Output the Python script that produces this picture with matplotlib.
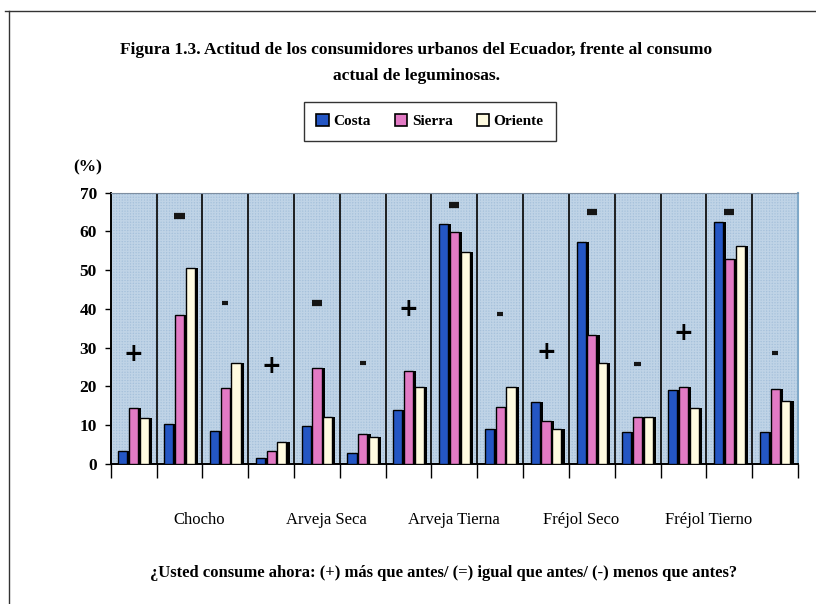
import numpy as np
import matplotlib
matplotlib.use("Agg")
import matplotlib.pyplot as plt
from matplotlib.patches import Patch, Rectangle
from matplotlib.lines import Line2D

# Survey results: share of respondents (%) per region, for each legume and answer
legumes = ["Chocho", "Arveja Seca", "Arveja Tierna", "Fréjol Seco", "Fréjol Tierno"]
answers = ["+", "=", "-"]
series = ["Costa", "Sierra", "Oriente"]

costa = [3.4, 10.3, 8.6, 1.6, 9.8, 2.8, 13.9, 61.8, 8.9, 16.1, 57.2, 8.2, 19.1, 62.5, 8.3]
sierra = [14.4, 38.4, 19.5, 3.4, 24.8, 7.7, 24.0, 59.8, 14.8, 11.1, 33.4, 12.0, 19.9, 53.0, 19.3]
oriente = [11.8, 50.5, 26.0, 5.6, 12.0, 7.0, 19.8, 54.6, 19.8, 8.9, 26.1, 12.0, 14.4, 56.3, 16.3]

# height at which the answer symbol is written in each group
symbol_y = [28.4, 64.0, 41.6, 25.4, 41.6, 26.0, 40.0, 66.8, 38.7, 29.0, 65.0, 25.7, 33.7, 65.0, 28.7]

colors = ["#2456c4", "#e27ac4", "#fffbe0"]
face_bg = "#a6c1db"
serif = ["Liberation Serif", "DejaVu Serif"]

fig = plt.figure(figsize=(8.16, 6.04), dpi=100)
fig.patch.set_facecolor("white")
ax = fig.add_axes([0.1357, 0.2318, 0.8423, 0.4492])
ax.set_facecolor(face_bg)

# fine screen texture of the plot area
ax.add_patch(Rectangle((0, 0), 1, 1, transform=ax.transAxes, facecolor="none",
                       edgecolor="#bfd3e6", hatch="++++++", linewidth=0, zorder=0.5))

n_groups = len(costa)
x = np.arange(n_groups)
bar_w = 0.2
shadow = 0.07
offsets = [-0.235, 0.0, 0.235]

for vals, off, col in zip([costa, sierra, oriente], offsets, colors):
    # dark side face giving the bars their raised look
    ax.bar(x + 0.5 + off + shadow, vals, width=bar_w, color="black", zorder=2)
    ax.bar(x + 0.5 + off, vals, width=bar_w, color=col, edgecolor="black",
           linewidth=1.0, zorder=3)

for i, (sym, yv) in enumerate(zip(answers * len(legumes), symbol_y)):
    if sym == "+":
        ax.text(i + 0.5, yv, "+", ha="center", va="center", fontsize=17,
                fontweight="bold", family=["DejaVu Sans"], zorder=4)
    elif sym == "=":
        ax.plot([i + 0.39, i + 0.61], [yv, yv], color="#151515", lw=4.5, zorder=4,
                solid_capstyle="butt")
    else:
        ax.plot([i + 0.43, i + 0.57], [yv, yv], color="#151515", lw=3.0, zorder=4,
                solid_capstyle="butt")

# separators between groups
for b in range(1, n_groups):
    ax.axvline(b, color="#111111", lw=1.3, zorder=1)

ax.set_xlim(0, n_groups)
ax.set_ylim(0, 70)
ax.set_xticks(np.arange(0, n_groups + 1))
ax.set_xticklabels([])
ax.tick_params(axis="x", length=10, width=1.0, direction="out", color="black")
ax.set_yticks(np.arange(0, 71, 10))
ax.set_yticklabels([str(v) for v in range(0, 71, 10)], fontsize=12.5,
                   fontweight="bold", family=serif)
ax.tick_params(axis="y", length=4, width=1.0, pad=6)

for side in ["left", "bottom"]:
    ax.spines[side].set_color("black")
    ax.spines[side].set_linewidth(1.4)
ax.spines["top"].set_color("#7e8ea0")
ax.spines["top"].set_linestyle((0, (2, 1)))
ax.spines["right"].set_color("#7fa8c8")
ax.spines["right"].set_linewidth(1.5)

# category names below the chart
label_x = [1.93, 4.71, 7.49, 10.27, 13.05]
for lx, name in zip(label_x, legumes):
    ax.text(lx, -14.5, name, ha="center", va="center", fontsize=12,
            family=serif, transform=ax.transData)

fig.text(0.108, 0.723, "(%)", ha="center", va="center", fontsize=12.5,
         fontweight="bold", family=serif)

fig.text(0.51, 0.917,
         "Figura 1.3. Actitud de los consumidores urbanos del Ecuador, frente al consumo",
         ha="center", va="center", fontsize=12.5, fontweight="bold", family=serif)
fig.text(0.51, 0.874, "actual de leguminosas.", ha="center", va="center",
         fontsize=12.5, fontweight="bold", family=serif)

fig.text(0.543, 0.051,
         "¿Usted consume ahora: (+) más que antes/ (=) igual que antes/ (-) menos que antes?",
         ha="center", va="center", fontsize=12, fontweight="bold", family=serif)

handles = [Patch(facecolor=c, edgecolor="black", linewidth=1.2) for c in colors]
leg = fig.legend(handles, series, loc="center", bbox_to_anchor=(0.527, 0.799),
                 ncol=3, frameon=True, fancybox=False, edgecolor="black",
                 handlelength=0.8, handleheight=0.8, handletextpad=0.3,
                 columnspacing=1.6, borderpad=0.8,
                 prop={"family": serif, "weight": "bold", "size": 11})
leg.get_frame().set_linewidth(1.0)

# outer frame lines
fig.add_artist(Line2D([0.006, 1.0], [0.982, 0.982], color="#333333", lw=1.0,
                      transform=fig.transFigure))
fig.add_artist(Line2D([0.011, 0.011], [0.982, 0.0], color="#333333", lw=1.0,
                      transform=fig.transFigure))

fig.savefig("out.png", dpi=100, facecolor="white")
